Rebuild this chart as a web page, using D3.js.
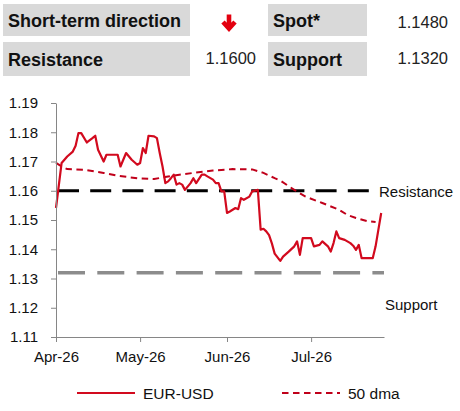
<!DOCTYPE html>
<html>
<head>
<meta charset="utf-8">
<script src="https://cdn.jsdelivr.net/npm/d3@7"></script>
<style>
  body { margin: 0; background: #fff; }
  text { font-family: "Liberation Sans", Arial, sans-serif; }
</style>
</head>
<body>
<svg id="chart" width="460" height="411"></svg>
<script>
const width = 460;
const height = 411;
const marginTop = 103;
const marginRight = 76;
const marginBottom = 74;
const marginLeft = 56;

// header table
const headerLabels = ["Short-term direction", "Spot*", "Resistance", "Support"];
const headerValues = ["", "1.1480", "1.1600", "1.1320"];

// EUR-USD daily close
const fxDates = [
  "2026-04-01","2026-04-03","2026-04-05","2026-04-07","2026-04-08","2026-04-09","2026-04-10",
  "2026-04-12","2026-04-14","2026-04-15","2026-04-16","2026-04-18","2026-04-19","2026-04-21",
  "2026-04-23","2026-04-24","2026-04-26","2026-04-28","2026-04-30","2026-05-01","2026-05-02",
  "2026-05-03","2026-05-04","2026-05-06","2026-05-07","2026-05-08","2026-05-09","2026-05-10",
  "2026-05-11","2026-05-12","2026-05-13","2026-05-14","2026-05-15","2026-05-16","2026-05-17",
  "2026-05-19","2026-05-20","2026-05-21","2026-05-23","2026-05-24","2026-05-25","2026-05-27",
  "2026-05-28","2026-05-29","2026-05-30","2026-05-31","2026-06-01","2026-06-02","2026-06-04",
  "2026-06-05","2026-06-06","2026-06-07","2026-06-09","2026-06-10","2026-06-12","2026-06-13",
  "2026-06-14","2026-06-15","2026-06-16","2026-06-17","2026-06-18","2026-06-20","2026-06-21",
  "2026-06-23","2026-06-25","2026-06-26","2026-06-27","2026-06-28","2026-06-29","2026-07-01",
  "2026-07-02","2026-07-04","2026-07-05","2026-07-07","2026-07-08","2026-07-09","2026-07-10",
  "2026-07-11","2026-07-13","2026-07-15","2026-07-16","2026-07-17","2026-07-18","2026-07-19",
  "2026-07-21","2026-07-23","2026-07-24","2026-07-25","2026-07-26"
];
const fxValues = [
  1.1541,1.1695,1.1717,1.1734,1.1754,1.1797,1.1797,
  1.1765,1.1780,1.1788,1.1740,1.1700,1.1723,1.1723,
  1.1723,1.1683,1.1729,1.1706,1.1689,1.1695,1.1746,
  1.1729,1.1788,1.1786,1.1780,1.1729,1.1683,1.1626,
  1.1632,1.1643,1.1655,1.1621,1.1626,1.1621,1.1603,
  1.1626,1.1643,1.1626,1.1655,1.1655,1.1649,1.1638,
  1.1626,1.1626,1.1598,1.1598,1.1524,1.1529,1.1541,
  1.1537,1.1575,1.1569,1.1580,1.1598,1.1603,1.1467,
  1.1470,1.1461,1.1448,1.1420,1.1385,1.1360,1.1375,
  1.1392,1.1410,1.1427,1.1381,1.1438,1.1438,1.1438,
  1.1410,1.1415,1.1427,1.1410,1.1392,1.1421,1.1461,
  1.1438,1.1432,1.1421,1.1412,1.1398,1.1415,1.1370,
  1.1370,1.1370,1.1410,1.1467,1.1524
];

// 50 day moving average
const dmaDates = [
  "2026-04-01","2026-04-03","2026-04-05","2026-04-11","2026-04-18","2026-04-23","2026-04-30",
  "2026-05-06","2026-05-11","2026-05-15","2026-05-20","2026-05-27","2026-06-03","2026-06-10",
  "2026-06-14","2026-06-18","2026-06-20","2026-06-25","2026-06-29","2026-07-05","2026-07-11",
  "2026-07-14","2026-07-17","2026-07-21","2026-07-24"
];
const dmaValues = [
  1.1695,1.1683,1.1674,1.1672,1.1661,1.1651,1.1643,
  1.1640,1.1649,1.1655,1.1661,1.1669,1.1674,1.1673,
  1.1661,1.1643,1.1635,1.1603,1.1580,1.1558,1.1535,
  1.1517,1.1507,1.1496,1.1493
];

const resistance = 1.16;
const support = 1.132;
const xStart = "2026-04-01";
const xEnd = "2026-07-27";
const resistanceEnd = "2026-07-22";
const yTicks = [1.11, 1.12, 1.13, 1.14, 1.15, 1.16, 1.17, 1.18, 1.19];
const xTicks = ["2026-04-01", "2026-05-01", "2026-06-01", "2026-07-01"];

const parse = d3.utcParse("%Y-%m-%d");
const fx = fxDates.map((d, i) => ({ date: parse(d), value: fxValues[i] }));
const dma = dmaDates.map((d, i) => ({ date: parse(d), value: dmaValues[i] }));

const red = "#d20a1e";
const darkRed = "#c0001a";
const axisGrey = "#868686";

const svg = d3.select("#chart");

// ---- header table ----
const head = svg.append("g");
const cells = [
  { x: 3, y: 4, w: 187, h: 32, label: headerLabels[0] },
  { x: 268, y: 4, w: 99, h: 32, label: headerLabels[1] },
  { x: 3, y: 42, w: 187, h: 34, label: headerLabels[2] },
  { x: 268, y: 42, w: 99, h: 34, label: headerLabels[3] }
];
head.selectAll("rect").data(cells).join("rect")
    .attr("x", d => d.x).attr("y", d => d.y)
    .attr("width", d => d.w).attr("height", d => d.h)
    .attr("fill", "#d9d9d9");
head.selectAll("text.lab").data(cells).join("text")
    .attr("class", "lab")
    .attr("x", d => d.x + 5)
    .attr("y", d => d.y + d.h / 2 + 6.5)
    .attr("font-size", 18)
    .attr("font-weight", "bold")
    .attr("fill", "#111")
    .text(d => d.label);

const valuePos = [null, { x: 448, y: 27.5 }, { x: 256, y: 64 }, { x: 448, y: 64 }];
headerValues.forEach((v, i) => {
  if (!v) return;
  head.append("text")
      .attr("x", valuePos[i].x).attr("y", valuePos[i].y)
      .attr("text-anchor", "end")
      .attr("font-size", 16.5)
      .attr("fill", "#222")
      .text(v);
});

// down arrow for direction
head.append("path")
    .attr("d", "M229,14.5V28M223,22L229,28.5L235,22")
    .attr("fill", "none")
    .attr("stroke", "#e3000f")
    .attr("stroke-width", 4.6);

// ---- chart ----
const xScale = d3.scaleUtc()
    .domain([parse(xStart), parse(xEnd)])
    .range([marginLeft, width - marginRight]);

const yScale = d3.scaleLinear()
    .domain([1.11, 1.19])
    .range([height - marginBottom, marginTop]);

// support / resistance
svg.append("line")
    .attr("x1", xScale(parse(xStart)) + 2)
    .attr("x2", xScale(parse(xEnd)))
    .attr("y1", yScale(support)).attr("y2", yScale(support))
    .attr("stroke", "#8c8c8c")
    .attr("stroke-width", 3.5)
    .attr("stroke-dasharray", "27,12.3");

svg.append("line")
    .attr("x1", xScale(parse(xStart)) + 2)
    .attr("x2", xScale(parse(resistanceEnd)))
    .attr("y1", yScale(resistance)).attr("y2", yScale(resistance))
    .attr("stroke", "#000")
    .attr("stroke-width", 3)
    .attr("stroke-dasharray", "21,11.2");

svg.append("text")
    .attr("x", xScale(parse(xEnd)) - 5)
    .attr("y", yScale(resistance) + 6)
    .attr("font-size", 15)
    .attr("fill", "#111")
    .text("Resistance");

svg.append("text")
    .attr("x", xScale(parse(xEnd)) + 1)
    .attr("y", yScale(support) + 37)
    .attr("font-size", 15)
    .attr("fill", "#111")
    .text("Support");

const line = d3.line()
    .x(p => xScale(p.date))
    .y(p => yScale(p.value));

svg.append("path")
    .datum(dma)
    .attr("d", line)
    .attr("fill", "none")
    .attr("stroke", darkRed)
    .attr("stroke-width", 2)
    .attr("stroke-dasharray", "6.5,4.5");

svg.append("path")
    .datum(fx)
    .attr("d", line)
    .attr("fill", "none")
    .attr("stroke", red)
    .attr("stroke-width", 2.2)
    .attr("stroke-linejoin", "round");

// axes
const xAxis = svg.append("g")
    .attr("transform", `translate(0,${height - marginBottom})`)
    .call(d3.axisBottom(xScale)
        .tickValues(xTicks.map(parse))
        .tickFormat(d3.utcFormat("%b-%y"))
        .tickSize(5).tickSizeOuter(0).tickPadding(9));

const yAxis = svg.append("g")
    .attr("transform", `translate(${marginLeft},0)`)
    .call(d3.axisLeft(yScale)
        .tickValues(yTicks)
        .tickFormat(d3.format(".2f"))
        .tickSize(5).tickSizeOuter(0).tickPadding(13));

[xAxis, yAxis].forEach(a => {
  a.select(".domain").attr("stroke", axisGrey);
  a.selectAll(".tick line").attr("stroke", axisGrey);
  a.selectAll(".tick text")
      .attr("font-family", "Liberation Sans, Arial, sans-serif")
      .attr("font-size", 15)
      .attr("fill", "#111");
});

// legend
const legend = svg.append("g").attr("transform", "translate(0,393)");
const items = [
  { x: 77, label: "EUR-USD", color: red, dash: null },
  { x: 282, label: "50 dma", color: darkRed, dash: "6.5,4.5" }
];
items.forEach(it => {
  legend.append("line")
      .attr("x1", it.x).attr("x2", it.x + 58)
      .attr("stroke", it.color)
      .attr("stroke-width", 2)
      .attr("stroke-dasharray", it.dash);
  legend.append("text")
      .attr("x", it.x + 66)
      .attr("y", 5.5)
      .attr("font-size", 15.5)
      .attr("fill", "#111")
      .text(it.label);
});
</script>
</body>
</html>
